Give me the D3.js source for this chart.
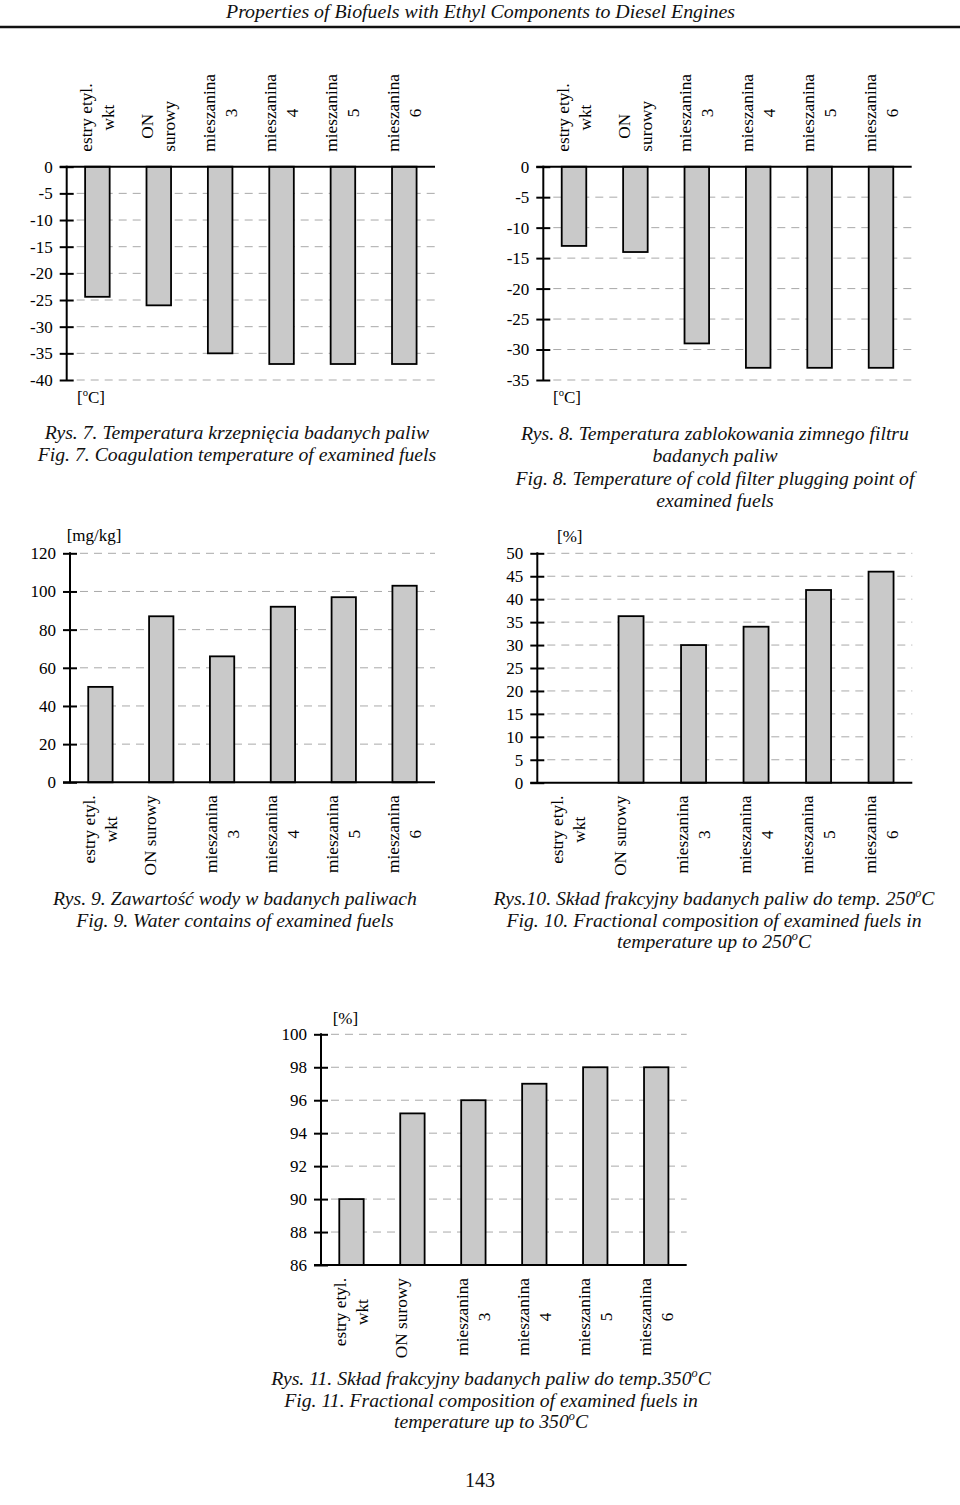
<!DOCTYPE html>
<html><head><meta charset="utf-8">
<script src="https://cdn.jsdelivr.net/npm/d3@7"></script>
<style>html,body{margin:0;padding:0;background:#fff;} svg{display:block;}</style>
</head><body>
<svg id="page" width="960" height="1505"></svg>
<script>
// ---------- data ----------
const categories = ["estry etyl. wkt", "ON surowy", "mieszanina 3", "mieszanina 4", "mieszanina 5", "mieszanina 6"];
const labelsTop = [["estry etyl.", "wkt"], ["ON", "surowy"], ["mieszanina", "3"], ["mieszanina", "4"], ["mieszanina", "5"], ["mieszanina", "6"]];
const labelsBottom = [["estry etyl.", "wkt"], ["ON surowy", ""], ["mieszanina", "3"], ["mieszanina", "4"], ["mieszanina", "5"], ["mieszanina", "6"]];

const coagulationTemp = [-24.4, -26, -35, -37, -37, -37];
const cfppTemp = [-13, -14, -29, -33, -33, -33];
const waterContent = [50, 87, 66, 92, 97, 103];
const fraction250 = [0, 36.3, 30, 34, 42, 46];
const fraction350 = [90, 95.2, 96, 97, 98, 98];

const ticksCoag = [0, -5, -10, -15, -20, -25, -30, -35, -40];
const ticksCfpp = [0, -5, -10, -15, -20, -25, -30, -35];
const ticksWater = [0, 20, 40, 60, 80, 100, 120];
const ticks250 = [0, 5, 10, 15, 20, 25, 30, 35, 40, 45, 50];
const ticks350 = [86, 88, 90, 92, 94, 96, 98, 100];

const headerText = "Properties of Biofuels with Ethyl Components to Diesel Engines";
const pageNumber = "143";
const caption7 = ["Rys. 7. Temperatura krzepnięcia badanych paliw", "Fig. 7. Coagulation temperature of examined fuels"];
const caption8 = ["Rys. 8. Temperatura zablokowania zimnego filtru", "badanych paliw", "Fig. 8. Temperature of cold filter plugging point of", "examined fuels"];
const caption9 = ["Rys. 9. Zawartość wody w badanych paliwach", "Fig. 9. Water contains of examined fuels"];
const caption10 = ["Rys.10. Skład frakcyjny badanych paliw do temp. 250°C", "Fig. 10. Fractional composition of examined fuels in", "temperature up to 250°C"];
const caption11 = ["Rys. 11. Skład frakcyjny badanych paliw do temp.350°C", "Fig. 11. Fractional composition of examined fuels in", "temperature up to 350°C"];

// ---------- drawing ----------
const FONT = "'Liberation Serif', 'Times New Roman', serif";
const svg = d3.select("#page");
svg.append("rect").attr("width", 960).attr("height", 1505).attr("fill", "#fff");

// rich text with superscript "o" for degree sign
function richText(sel, str, size) {
  const parts = str.split("°");
  parts.forEach((p, i) => {
    if (i > 0) {
      sel.append("tspan").attr("font-size", size * 0.62).attr("dy", -size * 0.42).text("o");
      sel.append("tspan").attr("dy", size * 0.42).text(p);
    } else if (p.length) {
      sel.append("tspan").text(p);
    }
  });
}

// header
svg.append("text").attr("x", 480.5).attr("y", 18).attr("text-anchor", "middle")
  .attr("font-family", FONT).attr("font-style", "italic").attr("font-size", 19.5)
  .attr("textLength", 509).attr("lengthAdjust", "spacingAndGlyphs").attr("fill", "#111")
  .text(headerText);
svg.append("line").attr("x1", 0).attr("x2", 960).attr("y1", 27).attr("y2", 27)
  .attr("stroke", "#111").attr("stroke-width", 2.5);

function drawChart(cfg) {
  const g = svg.append("g");
  const x = d3.scaleBand().domain(categories).range([cfg.axisX, cfg.right]).paddingInner(0.6).paddingOuter(0.3);
  const y = d3.scaleLinear().domain(cfg.domain).range(cfg.range);

  g.selectAll("line.grid").data(cfg.ticks.filter(t => t !== cfg.base)).join("line")
    .attr("class", "grid")
    .attr("x1", cfg.axisX + 10).attr("x2", cfg.right)
    .attr("y1", d => y(d)).attr("y2", d => y(d))
    .attr("stroke", "#a9a9a9").attr("stroke-width", 1).attr("stroke-dasharray", "8,6");

  g.selectAll("rect.bar").data(cfg.values).join("rect")
    .attr("class", "bar")
    .attr("x", (d, i) => x(categories[i])).attr("width", x.bandwidth())
    .attr("y", d => Math.min(y(d), y(cfg.base)))
    .attr("height", d => Math.abs(y(d) - y(cfg.base)))
    .attr("fill", "#c9c9c9").attr("stroke", "#000").attr("stroke-width", 1.8);

  const axis = d3.axisLeft(y).tickValues(cfg.ticks).tickSize(7).tickPadding(7).tickFormat(d => String(d));
  const ag = g.append("g").attr("transform", `translate(${cfg.axisX},0)`).call(axis);
  ag.attr("font-family", FONT).attr("font-size", 17);
  ag.select(".domain").remove();
  ag.selectAll(".tick line").attr("x1", 7).attr("stroke", "#000").attr("stroke-width", 2);
  ag.selectAll(".tick text").attr("fill", "#000");

  g.append("line").attr("x1", cfg.axisX).attr("x2", cfg.axisX)
    .attr("y1", y(cfg.domain[0])).attr("y2", y(cfg.domain[1]))
    .attr("stroke", "#000").attr("stroke-width", 2).attr("stroke-linecap", "square");
  g.append("line").attr("x1", cfg.axisX - 7).attr("x2", cfg.right)
    .attr("y1", y(cfg.base)).attr("y2", y(cfg.base))
    .attr("stroke", "#000").attr("stroke-width", 2);

  // category labels, rotated
  const edge = cfg.labelPos === "top" ? cfg.labelEdge : y(cfg.base) + 13;
  cfg.labels.forEach((lines, i) => {
    const cx = x(categories[i]) + x.bandwidth() / 2;
    const lg = g.append("g").attr("transform", `translate(${cx},${edge}) rotate(-90)`)
      .attr("font-family", FONT).attr("font-size", 17.3).attr("fill", "#000");
    const n = lines.length;
    const texts = lines.map((t, j) => lg.append("text").attr("text-anchor", "middle")
      .attr("y", (j - (n - 1) / 2) * 22 + 5.5).text(t));
    const maxW = d3.max(texts, t => t.node().getComputedTextLength());
    const mid = cfg.labelPos === "top" ? maxW / 2 : -maxW / 2;
    texts.forEach(t => t.attr("x", mid));
  });

  // unit label
  const ut = g.append("text").attr("x", cfg.unitX).attr("y", cfg.unitY)
    .attr("font-family", FONT).attr("font-size", 17).attr("fill", "#000");
  richText(ut, cfg.unit, 17);
}

drawChart({ values: coagulationTemp, ticks: ticksCoag, labels: labelsTop, domain: [-40, 0], range: [380, 166.7], base: 0,
  axisX: 66.7, right: 435, labelPos: "top", labelEdge: 151.7, unit: "[°C]", unitX: 77, unitY: 403 });
drawChart({ values: cfppTemp, ticks: ticksCfpp, labels: labelsTop, domain: [-35, 0], range: [380, 166.7], base: 0,
  axisX: 543.3, right: 911.7, labelPos: "top", labelEdge: 151.7, unit: "[°C]", unitX: 553, unitY: 403 });
drawChart({ values: waterContent, ticks: ticksWater, labels: labelsBottom, domain: [0, 120], range: [782.3, 553.3], base: 0,
  axisX: 70, right: 435, labelPos: "bottom", unit: "[mg/kg]", unitX: 66.7, unitY: 541 });
drawChart({ values: fraction250, ticks: ticks250, labels: labelsBottom, domain: [0, 50], range: [782.7, 553.3], base: 0,
  axisX: 537.3, right: 912.3, labelPos: "bottom", unit: "[%]", unitX: 557, unitY: 542 });
drawChart({ values: fraction350, ticks: ticks350, labels: labelsBottom, domain: [86, 100], range: [1265, 1034.3], base: 86,
  axisX: 321, right: 686.7, labelPos: "bottom", unit: "[%]", unitX: 332.7, unitY: 1024 });

// captions
function drawCaption(lines, cx, y0, step) {
  lines.forEach((l, i) => {
    const t = svg.append("text").attr("x", cx).attr("y", y0 + i * step).attr("text-anchor", "middle")
      .attr("font-family", FONT).attr("font-style", "italic").attr("font-size", 19.7).attr("fill", "#111");
    richText(t, l, 19.7);
  });
}
drawCaption(caption7, 237, 439, 22);
drawCaption(caption8, 715, 440, 22.4);
drawCaption(caption9, 235, 905, 22);
drawCaption(caption10, 714, 905, 21.5);
drawCaption(caption11, 491, 1385, 21.5);

svg.append("text").attr("x", 480).attr("y", 1487).attr("text-anchor", "middle")
  .attr("font-family", FONT).attr("font-size", 20).attr("fill", "#111").text(pageNumber);
</script>
</body></html>
